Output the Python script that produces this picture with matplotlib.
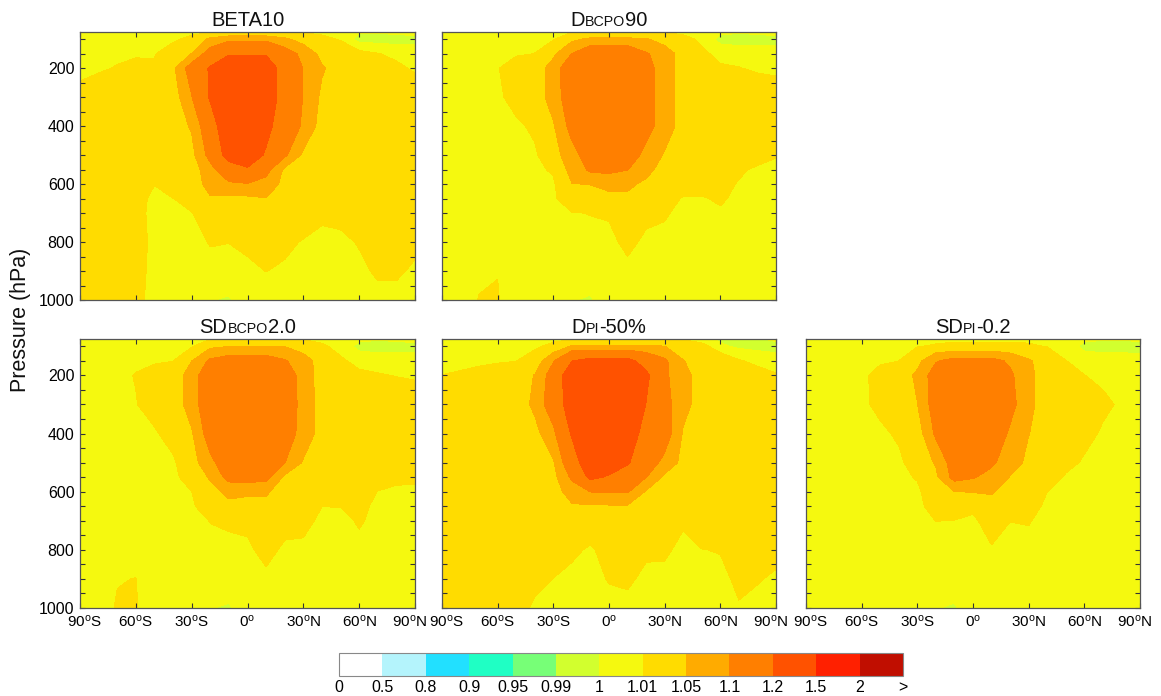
import numpy as np
import matplotlib
matplotlib.use("Agg")
import matplotlib.pyplot as plt
import matplotlib.transforms as mtransforms
from matplotlib.colors import ListedColormap, BoundaryNorm
from matplotlib.cm import ScalarMappable
from matplotlib.offsetbox import TextArea, HPacker, AnchoredOffsetbox
from matplotlib.ticker import FixedLocator, MultipleLocator

plt.rcParams['font.family'] = ['Liberation Sans', 'DejaVu Sans']
plt.rcParams['mathtext.fontset'] = 'custom'
plt.rcParams['mathtext.rm'] = 'Liberation Sans'
plt.rcParams['mathtext.it'] = 'Liberation Sans:italic'
plt.rcParams['mathtext.bf'] = 'Liberation Sans:bold'

# grid
LAT = [-90, -80, -70, -60, -50, -40, -30, -20, -10, 0, 10, 20, 30, 40, 50, 60, 70, 80, 90]
PRES = [75, 100, 150, 200, 300, 400, 500, 550, 600, 650, 700, 800, 900, 1000]

LEVELS = [0, 0.5, 0.8, 0.9, 0.95, 0.99, 1.0, 1.01, 1.05, 1.1, 1.2, 1.5, 2.0, 3.0]
LEVEL_LABELS = ['0', '0.5', '0.8', '0.9', '0.95', '0.99', '1', '1.01', '1.05', '1.1', '1.2', '1.5', '2', '>']
COLORS = ['#ffffff', '#b4f4fc', '#22e0ff', '#1fffc4', '#77ff77', '#d2ff2e',
          '#f5f90f', '#ffdc00', '#ffab00', '#ff7f00', '#ff5200', '#ff2000', '#c00e00']

XTICKS = [-90, -60, -30, 0, 30, 60, 90]
XTICK_LABELS = [r'90$^\mathrm{o}$S', r'60$^\mathrm{o}$S', r'30$^\mathrm{o}$S', r'0$^\mathrm{o}$',
                r'30$^\mathrm{o}$N', r'60$^\mathrm{o}$N', r'90$^\mathrm{o}$N']
YTICKS = [200, 400, 600, 800, 1000]

BETA10 = [
    [1.005, 1.005, 1.005, 1.005, 1.005, 1.005, 1.006, 1.008, 1.008, 1.008, 1.008, 1.008, 1.008, 1.007, 1.004, 1.001, 1.001, 1.002, 1.003],
    [1.005, 1.005, 1.005, 1.005, 1.006, 1.007, 1.015, 1.06, 1.085, 1.085, 1.085, 1.06, 1.03, 1.014, 1.009, 0.996, 0.996, 0.996, 0.997],
    [1.005, 1.006, 1.007, 1.008, 1.009, 1.02, 1.051, 1.13, 1.19, 1.19, 1.19, 1.13, 1.085, 1.035, 1.02, 1.014, 1.0105, 1.007, 1.005],
    [1.006, 1.008, 1.011, 1.015, 1.012, 1.04, 1.13, 1.21, 1.3, 1.3, 1.27, 1.15, 1.098, 1.055, 1.03, 1.025, 1.02, 1.013, 1.008],
    [1.015, 1.02, 1.02, 1.02, 1.02, 1.025, 1.097, 1.21, 1.3, 1.3, 1.27, 1.15, 1.098, 1.04, 1.03, 1.02, 1.02, 1.02, 1.02],
    [1.02, 1.02, 1.02, 1.02, 1.02, 1.025, 1.055, 1.15, 1.28, 1.3, 1.225, 1.15, 1.09, 1.03, 1.02, 1.02, 1.02, 1.02, 1.02],
    [1.02, 1.02, 1.02, 1.02, 1.02, 1.02, 1.035, 1.12, 1.24, 1.25, 1.19, 1.11, 1.04, 1.025, 1.02, 1.02, 1.02, 1.02, 1.02],
    [1.02, 1.02, 1.02, 1.02, 1.015, 1.02, 1.025, 1.08, 1.15, 1.19, 1.12, 1.04, 1.025, 1.02, 1.02, 1.02, 1.02, 1.02, 1.02],
    [1.025, 1.025, 1.024, 1.02, 1.0105, 1.018, 1.022, 1.07, 1.09, 1.095, 1.08, 1.035, 1.02, 1.02, 1.02, 1.02, 1.02, 1.02, 1.02],
    [1.025, 1.025, 1.022, 1.018, 1.005, 1.0098, 1.015, 1.045, 1.04, 1.04, 1.048, 1.03, 1.02, 1.02, 1.02, 1.02, 1.02, 1.02, 1.02],
    [1.025, 1.025, 1.022, 1.017, 1.004, 1.005, 1.0095, 1.02, 1.022, 1.025, 1.035, 1.025, 1.018, 1.013, 1.014, 1.016, 1.02, 1.02, 1.02],
    [1.025, 1.025, 1.022, 1.02, 1.004, 1.004, 1.005, 1.011, 1.0102, 1.013, 1.02, 1.013, 1.009, 1.006, 1.007, 1.011, 1.016, 1.016, 1.013],
    [1.022, 1.022, 1.02, 1.015, 1.006, 1.004, 1.004, 1.005, 1.006, 1.007, 1.0102, 1.008, 1.006, 1.005, 1.005, 1.007, 1.012, 1.012, 1.008],
    [1.02, 1.02, 1.02, 1.015, 1.004, 1.004, 1.004, 1.0003, 0.999, 1.004, 1.004, 1.004, 1.003, 1.004, 1.005, 1.005, 1.006, 1.006, 1.005],
]

D_BCPO90 = [
    [1.005, 1.005, 1.005, 1.005, 1.005, 1.005, 1.006, 1.008, 1.008, 1.008, 1.008, 1.008, 1.008, 1.007, 1.004, 1.002, 1.001, 1.002, 1.003],
    [1.004, 1.004, 1.004, 1.005, 1.005, 1.006, 1.008, 1.04, 1.06, 1.06, 1.06, 1.055, 1.03, 1.015, 1.007, 0.997, 0.996, 0.996, 0.997],
    [1.004, 1.004, 1.005, 1.006, 1.008, 1.0102, 1.04, 1.101, 1.15, 1.15, 1.15, 1.105, 1.075, 1.03, 1.013, 1.006, 1.005, 1.005, 1.004],
    [1.004, 1.005, 1.006, 1.009, 1.02, 1.025, 1.07, 1.15, 1.17, 1.17, 1.17, 1.12, 1.075, 1.03, 1.02, 1.012, 1.0105, 1.008, 1.007],
    [1.004, 1.004, 1.005, 1.005, 1.02, 1.025, 1.07, 1.14, 1.17, 1.17, 1.17, 1.12, 1.075, 1.03, 1.02, 1.02, 1.02, 1.02, 1.018],
    [1.004, 1.004, 1.004, 1.004, 1.005, 1.015, 1.045, 1.12, 1.16, 1.16, 1.16, 1.12, 1.075, 1.03, 1.02, 1.02, 1.02, 1.02, 1.018],
    [1.004, 1.004, 1.004, 1.004, 1.004, 1.006, 1.03, 1.08, 1.13, 1.13, 1.13, 1.085, 1.045, 1.03, 1.02, 1.02, 1.02, 1.02, 1.011],
    [1.004, 1.004, 1.004, 1.004, 1.004, 1.005, 1.013, 1.065, 1.11, 1.115, 1.101, 1.065, 1.03, 1.025, 1.025, 1.02, 1.014, 1.006, 1.006],
    [1.004, 1.004, 1.004, 1.004, 1.004, 1.004, 1.006, 1.049, 1.051, 1.06, 1.06, 1.04, 1.025, 1.02, 1.02, 1.018, 1.008, 1.005, 1.005],
    [1.004, 1.004, 1.004, 1.004, 1.004, 1.004, 1.005, 1.03, 1.035, 1.04, 1.04, 1.03, 1.02, 1.008, 1.008, 1.013, 1.005, 1.005, 1.005],
    [1.004, 1.004, 1.004, 1.004, 1.004, 1.004, 1.005, 1.009, 1.0105, 1.012, 1.025, 1.015, 1.012, 1.005, 1.005, 1.007, 1.005, 1.005, 1.005],
    [1.005, 1.005, 1.005, 1.005, 1.005, 1.005, 1.005, 1.005, 1.005, 1.005, 1.015, 1.006, 1.005, 1.005, 1.005, 1.005, 1.005, 1.005, 1.005],
    [1.005, 1.005, 1.008, 1.0098, 1.005, 1.005, 1.005, 1.005, 1.005, 1.005, 1.005, 1.005, 1.005, 1.005, 1.005, 1.005, 1.005, 1.005, 1.005],
    [1.005, 1.005, 1.0105, 1.0105, 1.005, 1.005, 1.005, 1.0003, 0.999, 1.005, 1.005, 1.005, 1.005, 1.005, 1.005, 1.005, 1.005, 1.005, 1.005],
]

SD_BCPO20 = [
    [1.005, 1.005, 1.005, 1.005, 1.005, 1.005, 1.006, 1.008, 1.008, 1.008, 1.008, 1.008, 1.008, 1.007, 1.004, 1.002, 1.001, 1.002, 1.003],
    [1.004, 1.004, 1.004, 1.005, 1.005, 1.006, 1.007, 1.04, 1.049, 1.049, 1.049, 1.049, 1.03, 1.012, 1.006, 0.997, 0.996, 0.996, 0.997],
    [1.004, 1.004, 1.005, 1.006, 1.007, 1.0095, 1.049, 1.11, 1.13, 1.13, 1.13, 1.105, 1.07, 1.03, 1.012, 1.006, 1.005, 1.005, 1.004],
    [1.004, 1.004, 1.005, 1.011, 1.02, 1.025, 1.07, 1.15, 1.17, 1.17, 1.17, 1.14, 1.075, 1.03, 1.02, 1.013, 1.011, 1.0095, 1.008],
    [1.004, 1.004, 1.005, 1.009, 1.02, 1.025, 1.07, 1.15, 1.17, 1.17, 1.17, 1.14, 1.08, 1.03, 1.02, 1.02, 1.02, 1.02, 1.02],
    [1.004, 1.004, 1.004, 1.004, 1.007, 1.02, 1.045, 1.13, 1.16, 1.16, 1.16, 1.13, 1.08, 1.03, 1.02, 1.02, 1.02, 1.02, 1.02],
    [1.004, 1.004, 1.004, 1.004, 1.004, 1.006, 1.03, 1.085, 1.14, 1.14, 1.14, 1.101, 1.045, 1.03, 1.02, 1.02, 1.02, 1.02, 1.02],
    [1.004, 1.004, 1.004, 1.004, 1.004, 1.005, 1.02, 1.055, 1.12, 1.125, 1.12, 1.04, 1.03, 1.02, 1.02, 1.02, 1.02, 1.015, 1.014],
    [1.004, 1.004, 1.004, 1.004, 1.004, 1.004, 1.0098, 1.035, 1.06, 1.055, 1.055, 1.03, 1.025, 1.02, 1.02, 1.02, 1.0095, 1.006, 1.006],
    [1.004, 1.004, 1.004, 1.004, 1.004, 1.004, 1.005, 1.03, 1.04, 1.04, 1.04, 1.03, 1.025, 1.0102, 1.0104, 1.016, 1.005, 1.005, 1.005],
    [1.004, 1.004, 1.004, 1.004, 1.004, 1.004, 1.004, 1.0105, 1.013, 1.015, 1.025, 1.018, 1.017, 1.005, 1.005, 1.012, 1.005, 1.005, 1.005],
    [1.005, 1.005, 1.005, 1.005, 1.005, 1.005, 1.005, 1.005, 1.005, 1.006, 1.017, 1.006, 1.005, 1.005, 1.005, 1.005, 1.005, 1.005, 1.005],
    [1.005, 1.005, 1.0095, 1.0102, 1.005, 1.005, 1.005, 1.005, 1.005, 1.005, 1.005, 1.005, 1.005, 1.005, 1.005, 1.005, 1.005, 1.005, 1.005],
    [1.005, 1.005, 1.011, 1.0105, 1.005, 1.005, 1.005, 1.0003, 0.999, 1.005, 1.005, 1.005, 1.005, 1.005, 1.005, 1.005, 1.005, 1.005, 1.005],
]

D_PI50 = [
    [1.005, 1.005, 1.005, 1.005, 1.005, 1.005, 1.006, 1.008, 1.008, 1.008, 1.008, 1.008, 1.008, 1.008, 1.004, 0.998, 0.997, 0.999, 1.002],
    [1.005, 1.005, 1.005, 1.006, 1.006, 1.007, 1.015, 1.055, 1.055, 1.055, 1.055, 1.055, 1.051, 1.025, 1.015, 1.002, 0.998, 0.997, 0.996],
    [1.005, 1.006, 1.007, 1.008, 1.0095, 1.02, 1.095, 1.198, 1.23, 1.23, 1.23, 1.16, 1.11, 1.052, 1.025, 1.02, 1.011, 1.007, 1.005],
    [1.0102, 1.012, 1.015, 1.02, 1.025, 1.052, 1.13, 1.27, 1.35, 1.35, 1.33, 1.22, 1.11, 1.065, 1.03, 1.025, 1.02, 1.015, 1.011],
    [1.02, 1.022, 1.025, 1.025, 1.025, 1.06, 1.14, 1.25, 1.35, 1.35, 1.3, 1.198, 1.12, 1.065, 1.03, 1.025, 1.02, 1.02, 1.02],
    [1.025, 1.025, 1.025, 1.025, 1.025, 1.035, 1.085, 1.21, 1.32, 1.3, 1.26, 1.16, 1.13, 1.045, 1.03, 1.025, 1.025, 1.025, 1.025],
    [1.025, 1.025, 1.025, 1.025, 1.025, 1.03, 1.045, 1.15, 1.27, 1.25, 1.21, 1.13, 1.085, 1.035, 1.03, 1.025, 1.025, 1.025, 1.025],
    [1.025, 1.025, 1.025, 1.025, 1.025, 1.03, 1.035, 1.11, 1.22, 1.19, 1.15, 1.101, 1.04, 1.03, 1.025, 1.025, 1.025, 1.025, 1.025],
    [1.025, 1.025, 1.025, 1.025, 1.025, 1.028, 1.03, 1.07, 1.101, 1.105, 1.105, 1.045, 1.03, 1.025, 1.025, 1.025, 1.025, 1.025, 1.025],
    [1.025, 1.025, 1.025, 1.025, 1.025, 1.025, 1.025, 1.045, 1.045, 1.045, 1.045, 1.03, 1.025, 1.025, 1.025, 1.025, 1.025, 1.025, 1.025],
    [1.025, 1.025, 1.025, 1.025, 1.025, 1.025, 1.025, 1.025, 1.02, 1.025, 1.025, 1.025, 1.025, 1.012, 1.025, 1.025, 1.025, 1.025, 1.025],
    [1.025, 1.025, 1.025, 1.025, 1.025, 1.02, 1.017, 1.013, 1.008, 1.016, 1.018, 1.013, 1.0125, 1.006, 1.0095, 1.011, 1.02, 1.017, 1.014],
    [1.025, 1.025, 1.025, 1.025, 1.02, 1.013, 1.0098, 1.006, 1.005, 1.011, 1.013, 1.006, 1.006, 1.005, 1.005, 1.005, 1.014, 1.011, 1.008],
    [1.025, 1.025, 1.025, 1.022, 1.015, 1.008, 1.005, 1.005, 1.005, 1.005, 1.005, 1.005, 1.005, 1.005, 1.005, 1.005, 1.0085, 1.006, 1.005],
]

SD_PI02 = [
    [1.005, 1.005, 1.005, 1.005, 1.005, 1.005, 1.005, 1.006, 1.006, 1.006, 1.006, 1.006, 1.006, 1.006, 1.004, 1.002, 1.001, 1.001, 1.002],
    [1.005, 1.005, 1.005, 1.005, 1.005, 1.005, 1.009, 1.012, 1.015, 1.015, 1.015, 1.015, 1.013, 1.009, 1.006, 0.997, 0.996, 0.996, 0.996],
    [1.004, 1.004, 1.005, 1.006, 1.008, 1.0098, 1.035, 1.095, 1.12, 1.12, 1.12, 1.09, 1.055, 1.03, 1.0102, 1.006, 1.005, 1.005, 1.004],
    [1.004, 1.004, 1.005, 1.007, 1.015, 1.02, 1.06, 1.13, 1.16, 1.16, 1.16, 1.11, 1.06, 1.03, 1.02, 1.0102, 1.007, 1.005, 1.004],
    [1.004, 1.004, 1.004, 1.006, 1.015, 1.02, 1.049, 1.13, 1.16, 1.16, 1.16, 1.12, 1.06, 1.03, 1.02, 1.017, 1.013, 1.008, 1.004],
    [1.004, 1.004, 1.004, 1.004, 1.006, 1.013, 1.025, 1.11, 1.15, 1.15, 1.15, 1.09, 1.051, 1.03, 1.02, 1.015, 1.008, 1.005, 1.004],
    [1.004, 1.004, 1.004, 1.004, 1.004, 1.006, 1.02, 1.055, 1.13, 1.13, 1.11, 1.07, 1.04, 1.025, 1.015, 1.008, 1.005, 1.004, 1.004],
    [1.004, 1.004, 1.004, 1.004, 1.004, 1.004, 1.012, 1.04, 1.12, 1.105, 1.08, 1.048, 1.035, 1.02, 1.008, 1.005, 1.004, 1.004, 1.004],
    [1.004, 1.004, 1.004, 1.004, 1.004, 1.004, 1.005, 1.03, 1.049, 1.052, 1.055, 1.03, 1.025, 1.0102, 1.005, 1.004, 1.004, 1.004, 1.004],
    [1.004, 1.004, 1.004, 1.004, 1.004, 1.004, 1.004, 1.02, 1.02, 1.015, 1.03, 1.02, 1.02, 1.005, 1.004, 1.004, 1.004, 1.004, 1.004],
    [1.004, 1.004, 1.004, 1.004, 1.004, 1.004, 1.004, 1.0102, 1.0095, 1.006, 1.02, 1.0102, 1.011, 1.005, 1.004, 1.004, 1.004, 1.004, 1.004],
    [1.005, 1.005, 1.005, 1.005, 1.005, 1.005, 1.005, 1.005, 1.005, 1.005, 1.008, 1.005, 1.005, 1.005, 1.005, 1.005, 1.005, 1.005, 1.005],
    [1.005, 1.005, 1.005, 1.005, 1.005, 1.005, 1.005, 1.005, 1.005, 1.005, 1.005, 1.005, 1.005, 1.005, 1.005, 1.005, 1.005, 1.005, 1.005],
    [1.005, 1.005, 1.005, 1.005, 1.005, 1.005, 1.005, 1.0003, 0.999, 1.005, 1.005, 1.005, 1.005, 1.005, 1.005, 1.005, 1.005, 1.005, 1.005],
]

# title pieces: (text, small)
TITLES = [
    [('BETA10', False)],
    [('D', False), ('BCPO', True), ('90', False)],
    [('SD', False), ('BCPO', True), ('2.0', False)],
    [('D', False), ('PI', True), ('-50%', False)],
    [('SD', False), ('PI', True), ('-0.2', False)],
]
FIELDS = [BETA10, D_BCPO90, SD_BCPO20, D_PI50, SD_PI02]

W, H = 1161, 696
# axes boxes in pixels: left, top, right, bottom
BOXES = [(80, 32, 415, 300), (442, 32, 776, 300),
         (80, 339, 415, 608), (442, 339, 776, 608), (806, 339, 1140, 608)]
SHOW_Y = [True, False, True, False, False]
SHOW_X = [False, False, True, True, True]

cmap = ListedColormap(COLORS)
norm = BoundaryNorm(LEVELS, len(COLORS))

fig = plt.figure(figsize=(W / 100, H / 100), dpi=100)

for field, parts, box, sy, sx in zip(FIELDS, TITLES, BOXES, SHOW_Y, SHOW_X):
    l, t, r, b = box
    ax = fig.add_axes([l / W, (H - b) / H, (r - l) / W, (b - t) / H])
    ax.contourf(LAT, PRES, np.array(field), levels=LEVELS, colors=COLORS, antialiased=False)
    ax.set_xlim(-90, 90)
    ax.set_ylim(1000, 75)
    ax.set_xticks(XTICKS)
    ax.yaxis.set_major_locator(FixedLocator(YTICKS))
    ax.yaxis.set_minor_locator(MultipleLocator(50))
    ax.tick_params(which='both', direction='in', top=True, right=True,
                   length=3.5, width=0.8, color='#333333', labelsize=11.5)
    ax.tick_params(axis='y', pad=4)
    ax.tick_params(axis='x', pad=4, labelsize=11)
    if sx:
        ax.set_xticklabels(XTICK_LABELS)
        # edge labels sit a little inside the frame, as in the original
        labs = ax.get_xticklabels()
        labs[0].set_transform(labs[0].get_transform() +
                              mtransforms.ScaledTranslation(4 / 100, 0, fig.dpi_scale_trans))
        labs[-1].set_transform(labs[-1].get_transform() +
                               mtransforms.ScaledTranslation(-5 / 100, 0, fig.dpi_scale_trans))
    else:
        ax.set_xticklabels([])
    if not sy:
        ax.set_yticklabels([])
    for sp in ax.spines.values():
        sp.set_color('#555555')
        sp.set_linewidth(0.9)

    children = [TextArea(txt, textprops=dict(fontsize=10.3 if small else 14.5, color='#111111'))
                for txt, small in parts]
    pack = HPacker(children=children, align='baseline', pad=0, sep=0)
    title_box = AnchoredOffsetbox(loc='lower center', child=pack, pad=0, frameon=False,
                                  bbox_to_anchor=(0.5, 1.0), bbox_transform=ax.transAxes,
                                  borderpad=0.15)
    ax.add_artist(title_box)

fig.text(21 / W, (H - 320) / H, 'Pressure (hPa)', rotation=90, ha='center', va='center',
         fontsize=15.5, color='#111111')

cax = fig.add_axes([339 / W, (H - 676) / H, 564 / W, 23 / H])
sm = ScalarMappable(norm=norm, cmap=cmap)
cb = fig.colorbar(sm, cax=cax, orientation='horizontal', spacing='uniform', ticks=LEVELS)
cb.set_ticklabels(LEVEL_LABELS)
cb.outline.set_edgecolor('#888888')
cb.outline.set_linewidth(0.8)
cax.tick_params(length=0, labelsize=11.5, pad=3)

fig.savefig('out.png', dpi=100)
